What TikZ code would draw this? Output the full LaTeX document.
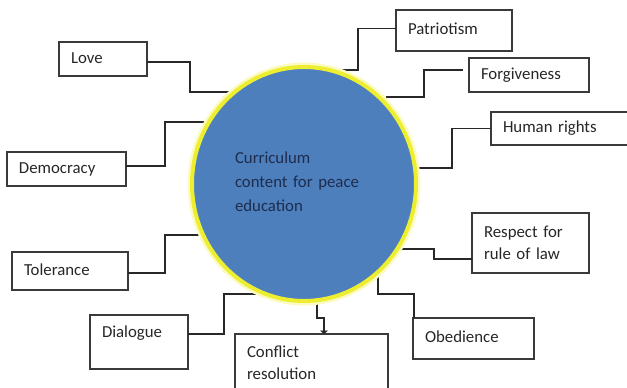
\documentclass[tikz,border=0pt]{standalone}
\usepackage{fontspec}
\setmainfont{Carlito}
\usepackage{tikz}
\usetikzlibrary{arrows.meta, shapes.geometric, calc}
\definecolor{peaceblue}{RGB}{76, 127, 188}
\definecolor{rimyellow}{RGB}{238, 238, 48}
\definecolor{inknavy}{RGB}{30, 44, 78}
\definecolor{boxgray}{RGB}{58, 58, 58}
\definecolor{linkgray}{RGB}{40, 40, 40}
\newcommand{\topicfont}{\fontsize{16.8pt}{22pt}\selectfont}
\newcommand{\corefont}{\fontsize{16.8pt}{24pt}\selectfont}
\tikzset{
  topic/.style 2 args={draw=boxgray, line width=1.2pt, anchor=north west, outer sep=0pt,
    inner xsep=12pt, inner ysep=0pt, minimum width=#1, minimum height=#2,
    text width=#1-24pt, align=left, text height=12pt, font=\topicfont, text=black!85},
  oneline/.style={text depth=4pt},
  link/.style={draw=linkgray, line width=1.2pt},
}

\begin{document}
\begin{tikzpicture}[x=1pt, y=-1pt]
        \useasboundingbox (0,0) rectangle (627,388);
        % Boxes round the core (top-left corner, width, height)
        \node[topic={88pt}{34pt}, oneline] (love) at (59,42) {Love};
        \node[topic={119pt}{34pt}, oneline] (democracy) at (7,152) {Democracy};
        \node[topic={116pt}{41pt}, oneline] (patriotism) at (396,10) {Patriotism};
        \node[topic={120pt}{34pt}, oneline] (forgiveness) at (469,58) {Forgiveness};
        \node[topic={149pt}{33pt}, oneline] (humanrights) at (491,112) {Human rights};
        \node[topic={116pt}{38pt}, oneline] (tolerance) at (12,252) {Tolerance};
        \node[topic={98pt}{54pt}, text depth=21pt] (dialogue) at (90,315) {Dialogue};
        \node[topic={153pt}{57pt}] (conflict) at (235,334) {Conflict\\resolution};
        \node[topic={117pt}{60pt}] (respect) at (472,213) {Respect for\\rule of law};
        \node[topic={121pt}{41pt}, oneline] (obedience) at (413,318) {Obedience};
        % Points on the rim where the links end
        \coordinate (rLove) at (232,92);
        \coordinate (rDem) at (207,122);
        \coordinate (rPat) at (334,70);
        \coordinate (rFor) at (386,97);
        \coordinate (rHum) at (416,168);
        \coordinate (rTol) at (200,235);
        \coordinate (rDia) at (259,294);
        \coordinate (rCon) at (317,300);
        \coordinate (rRes) at (400,249);
        \coordinate (rObe) at (378,274);
        % Elbow links
        \draw[link] ([yshift=-3pt]love.east) -- ++(43,0) |- (rLove);
        \draw[link] ([yshift=3pt]democracy.east) -- ++(39,0) |- (rDem);
        \draw[link] ([yshift=2pt]patriotism.west) -- ++(-38,0) |- (rPat);
        \draw[link] ([xshift=-6pt, yshift=5pt]forgiveness.west) -- ++(-39,0) |- (rFor);
        \draw[link] (humanrights.west) -- ++(-39,0) |- (rHum);
        \draw[link] ([yshift=-2pt]tolerance.east) -- ++(37,0) |- (rTol);
        \draw[link] ([yshift=8pt]dialogue.east) -- ++(36,0) |- (rDia);
        \draw[link] ([yshift=-16pt]respect.west) -- ++(-38,0) |- (rRes);
        \draw[link] ([xshift=1pt]obedience.north west) -- ++(0,-24) -| (rObe);
        \draw[link, -{Triangle[length=3.5pt, width=8pt]}] (rCon) -- ++(0,18) -| ([xshift=12.5pt]conflict.north);
        % Core circle
        \node[ellipse, fill=peaceblue, draw=rimyellow, line width=4pt,
          preaction={draw=rimyellow!30, line width=9pt},
          minimum width=224pt, minimum height=234pt, inner sep=0pt,
          text width=138pt, align=left, text height=12pt, text depth=53pt,
          font=\corefont, text=inknavy] (core) at (304,184)
          {Curriculum\\content for peace\\education};
      \end{tikzpicture}
\end{document}
